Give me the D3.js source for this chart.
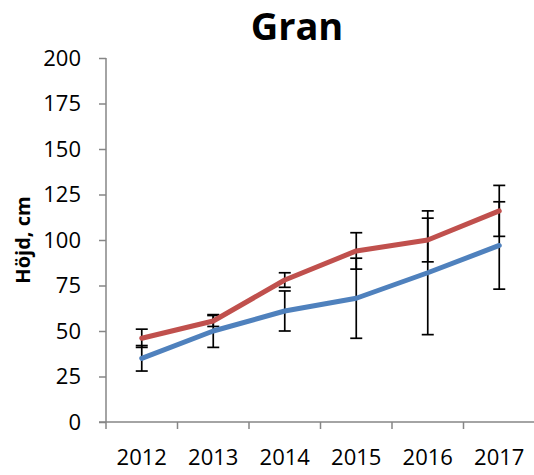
<!DOCTYPE html>
<html>
<head>
<meta charset="utf-8">
<script src="https://cdn.jsdelivr.net/npm/d3@7"></script>
<style>
  body { margin: 0; background: #fff; }
  text { font-family: "Open Sans", sans-serif; fill: #000; }
</style>
</head>
<body>
<div id="chart"></div>
<script>
// chart data
let years = ["2012", "2013", "2014", "2015", "2016", "2017"];
let redValues = [46, 55.5, 78, 94, 100, 116];
let redErrors = [5, 3, 4, 10, 12, 14];
let blueValues = [35, 50, 61, 68, 82, 97];
let blueErrors = [7, 9, 11, 22, 34, 24];
let yTicks = [0, 25, 50, 75, 100, 125, 150, 175, 200];

let svgWidth = 534;
let svgHeight = 475;
let margin = { top: 58, right: -1, bottom: 53, left: 106 };

let svg = d3.select('#chart')
  .append('svg')
  .attr('width', svgWidth)
  .attr('height', svgHeight);

let x = d3.scaleBand()
  .domain(years)
  .range([margin.left, svgWidth - margin.right]);

let y = d3.scaleLinear()
  .domain([0, 200])
  .range([svgHeight - margin.bottom, margin.top]);

let axisColor = '#868686';

// y axis
let yAxis = svg.append('g')
  .attr('transform', 'translate(' + margin.left + ',0)')
  .call(d3.axisLeft(y).tickValues(yTicks).tickSize(7).tickPadding(18));
yAxis.select('.domain').attr('stroke', axisColor).attr('stroke-width', 1.5)
  .attr('d', 'M0,' + y(200) + 'V' + (y(0) + 7));
yAxis.selectAll('.tick line').attr('stroke', axisColor).attr('stroke-width', 1.5);
yAxis.selectAll('.tick text').attr('font-size', 22).attr('font-family', '"Open Sans", sans-serif');

// x axis, ticks sit between the categories
let xAxis = svg.append('g')
  .attr('transform', 'translate(0,' + y(0) + ')');
xAxis.append('path')
  .attr('stroke', axisColor).attr('stroke-width', 1.5).attr('fill', 'none')
  .attr('d', 'M' + (margin.left - 7) + ',0H' + svgWidth);
xAxis.selectAll('line.sep')
  .data(years)
  .enter()
  .append('line')
  .attr('class', 'sep')
  .attr('x1', d => x(d) + x.bandwidth())
  .attr('x2', d => x(d) + x.bandwidth())
  .attr('y1', 0).attr('y2', 7)
  .attr('stroke', axisColor).attr('stroke-width', 1.5);
xAxis.selectAll('text')
  .data(years)
  .enter()
  .append('text')
  .attr('x', d => x(d) + x.bandwidth() / 2)
  .attr('y', 43)
  .attr('text-anchor', 'middle')
  .attr('font-size', 22)
  .text(d => d);

// title and axis label
svg.append('text')
  .attr('x', 297).attr('y', 40)
  .attr('text-anchor', 'middle')
  .attr('font-size', 38).attr('font-weight', 'bold')
  .text('Gran');

svg.append('text')
  .attr('transform', 'translate(30,240) rotate(-90)')
  .attr('text-anchor', 'middle')
  .attr('font-size', 20).attr('font-weight', 'bold')
  .text('Höjd, cm');

let cx = (d, i) => x(years[i]) + x.bandwidth() / 2;

function drawErrors(values, errors) {
  let g = svg.append('g').attr('stroke', '#000').attr('stroke-width', 1.7);
  values.forEach(function (v, i) {
    let px = cx(v, i);
    let lo = y(v - errors[i]);
    let hi = y(v + errors[i]);
    g.append('line').attr('x1', px).attr('x2', px).attr('y1', lo).attr('y2', hi);
    g.append('line').attr('x1', px - 6).attr('x2', px + 6).attr('y1', lo).attr('y2', lo);
    g.append('line').attr('x1', px - 6).attr('x2', px + 6).attr('y1', hi).attr('y2', hi);
  });
}

drawErrors(blueValues, blueErrors);
drawErrors(redValues, redErrors);

let line = d3.line()
  .x((d, i) => cx(d, i))
  .y(d => y(d));

svg.append('path')
  .datum(blueValues)
  .attr('d', line)
  .attr('fill', 'none')
  .attr('stroke', '#4F81BD')
  .attr('stroke-width', 5)
  .attr('stroke-linejoin', 'round')
  .attr('stroke-linecap', 'round');

svg.append('path')
  .datum(redValues)
  .attr('d', line)
  .attr('fill', 'none')
  .attr('stroke', '#C0504D')
  .attr('stroke-width', 5)
  .attr('stroke-linejoin', 'round')
  .attr('stroke-linecap', 'round');
</script>
</body>
</html>
